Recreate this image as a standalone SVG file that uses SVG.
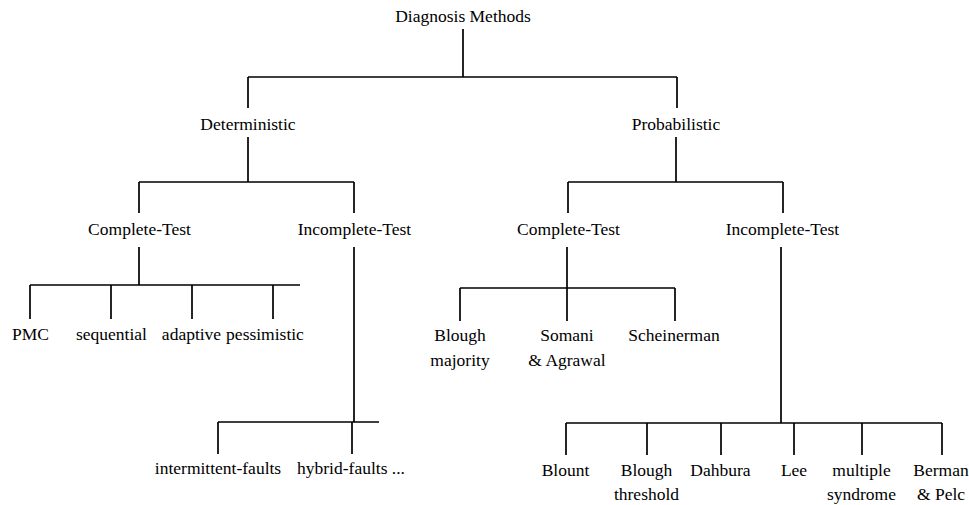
<svg xmlns="http://www.w3.org/2000/svg" width="969" height="505" viewBox="0 0 969 505">
<style>
text{font-family:"Liberation Serif","Times New Roman",serif;font-size:17.5px;fill:#000;text-anchor:middle}
.c path{stroke:#000;stroke-width:1.7;fill:none}
</style>
<rect width="969" height="505" fill="#fff"/>
<g class="c" id="connectors">
<path d="M463 29V77M248 77H677M248 77V108M677 77V108"/>
<path d="M248 137V182M139 182H354M139 182V213M354 182V213"/>
<path d="M676 137V182M568 182H783M568 182V213M783 182V213"/>
<path d="M139 247V285M30 285H300M30 285V319M111 285V319M192 285V319M273 285V319"/>
<path d="M354 247V422M218 422H379M218 422V454M352 422V454"/>
<path d="M567 247V288M460 288H675M460 288V321M567 288V321M675 288V321"/>
<path d="M781 247V423M566 423H942M566 423V455M647 423V455M721 423V455M794 423V455M862 423V455M942 423V455"/>
</g>
<g id="root"><text x="463" y="22">Diagnosis Methods</text></g>
<g id="deterministic"><text x="248" y="130">Deterministic</text></g>
<g id="probabilistic"><text x="676" y="130">Probabilistic</text></g>
<g id="det-complete"><text x="139.5" y="235">Complete-Test</text></g>
<g id="det-incomplete"><text x="354.5" y="235">Incomplete-Test</text></g>
<g id="prob-complete"><text x="568.5" y="235">Complete-Test</text></g>
<g id="prob-incomplete"><text x="782.5" y="235">Incomplete-Test</text></g>
<g id="pmc"><text x="30.5" y="340">PMC</text></g>
<g id="sequential"><text x="111.5" y="340">sequential</text></g>
<g id="adaptive"><text x="191.5" y="340">adaptive</text></g>
<g id="pessimistic"><text x="265" y="340">pessimistic</text></g>
<g id="intermittent"><text x="218" y="474">intermittent-faults</text></g>
<g id="hybrid"><text x="351" y="474">hybrid-faults ...</text></g>
<g id="blough-majority"><text x="460" y="341">Blough</text><text x="460" y="366">majority</text></g>
<g id="somani"><text x="567" y="341">Somani</text><text x="567" y="366">&amp; Agrawal</text></g>
<g id="scheinerman"><text x="674" y="341">Scheinerman</text></g>
<g id="blount"><text x="565.5" y="476">Blount</text></g>
<g id="blough-threshold"><text x="646.5" y="476">Blough</text><text x="646.5" y="500">threshold</text></g>
<g id="dahbura"><text x="720.5" y="476">Dahbura</text></g>
<g id="lee"><text x="794" y="476">Lee</text></g>
<g id="multiple"><text x="861.5" y="476">multiple</text><text x="861.5" y="500">syndrome</text></g>
<g id="berman"><text x="941" y="476">Berman</text><text x="941" y="500">&amp; Pelc</text></g>
</svg>
